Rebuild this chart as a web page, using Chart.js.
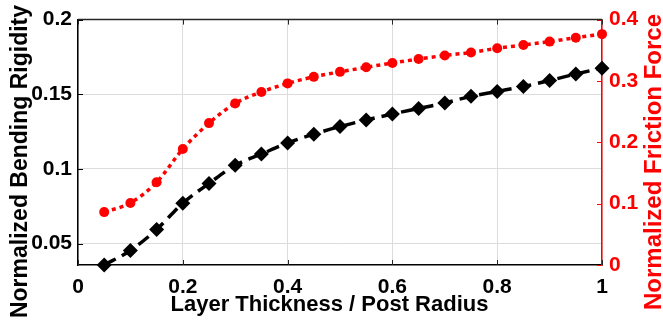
<!DOCTYPE html>
<html>
<head>
<meta charset="utf-8">
<script src="https://cdn.jsdelivr.net/npm/chart.js@4.4.1/dist/chart.umd.min.js"></script>
<style>
  html, body { margin: 0; padding: 0; background: #ffffff; }
  #wrap { width: 663px; height: 325px; position: relative; }
</style>
</head>
<body>
<div id="wrap"><canvas id="c"></canvas></div>
<script>
// Layer thickness normalised by post radius
const thickness = [0.05, 0.10, 0.15, 0.20, 0.25, 0.30, 0.35, 0.40, 0.45, 0.50,
                   0.55, 0.60, 0.65, 0.70, 0.75, 0.80, 0.85, 0.90, 0.95, 1.00];
// Normalized bending rigidity (left axis)
const rigidity = [0.0357, 0.0454, 0.0595, 0.0771, 0.0903, 0.1025, 0.1100, 0.1174, 0.1233, 0.1284,
                  0.1328, 0.1368, 0.1405, 0.1442, 0.1486, 0.1519, 0.1552, 0.1592, 0.1636, 0.1675];
// Normalized friction force (right axis)
const friction = [0.0862, 0.1012, 0.1349, 0.1890, 0.2313, 0.2634, 0.2821, 0.2960, 0.3067, 0.3148,
                  0.3223, 0.3292, 0.3357, 0.3416, 0.3464, 0.3533, 0.3586, 0.3641, 0.3705, 0.3763];

const xTicks = [0, 0.2, 0.4, 0.6, 0.8, 1];
const leftTicks = [0.05, 0.1, 0.15, 0.2];
const rightTicks = [0, 0.1, 0.2, 0.3, 0.4];

const xTitle = 'Layer Thickness / Post Radius';
const leftTitle = 'Normalized Bending Rigidity';
const rightTitle = 'Normalized Friction Force';

const FONT = '"Liberation Sans", Arial, sans-serif';
const RED = '#ff0000';
const INK = '#000000';
const TICK_FONT = { family: FONT, size: 21, weight: 'bold' };

const fixTicks = (list) => function (scale) {
  scale.ticks = list.map(v => ({ value: v }));
};

// MATLAB-style inward tick marks, top frame line and axis titles
const frame = {
  id: 'frame',
  afterDraw(chart) {
    const { ctx, chartArea: a, scales } = chart;
    const len = 5;
    ctx.save();
    ctx.lineWidth = 1;
    // x ticks at bottom and top
    ctx.strokeStyle = '#262626';
    scales.x.ticks.forEach(t => {
      const px = Math.round(scales.x.getPixelForValue(t.value)) + 0.5;
      ctx.beginPath();
      ctx.moveTo(px, a.bottom); ctx.lineTo(px, a.bottom - len);
      ctx.moveTo(px, a.top); ctx.lineTo(px, a.top + len);
      ctx.stroke();
    });
    // left ticks
    ctx.strokeStyle = INK;
    scales.y.ticks.forEach(t => {
      const py = Math.round(scales.y.getPixelForValue(t.value)) + 0.5;
      ctx.beginPath();
      ctx.moveTo(a.left, py); ctx.lineTo(a.left + len, py);
      ctx.stroke();
    });
    // right ticks
    ctx.strokeStyle = RED;
    scales.y1.ticks.forEach(t => {
      const py = Math.round(scales.y1.getPixelForValue(t.value)) + 0.5;
      ctx.beginPath();
      ctx.moveTo(a.right, py); ctx.lineTo(a.right - len, py);
      ctx.stroke();
    });
    // top frame line
    ctx.strokeStyle = '#262626';
    ctx.lineWidth = 1.5;
    ctx.beginPath();
    ctx.moveTo(a.left, a.top); ctx.lineTo(a.right, a.top);
    ctx.stroke();

    // axis titles
    ctx.textAlign = 'center';
    ctx.textBaseline = 'alphabetic';
    ctx.fillStyle = INK;
    ctx.font = 'bold 22px ' + FONT;
    ctx.fillText(xTitle, 329.5, 311);

    ctx.save();
    ctx.translate(27, 161.5);
    ctx.rotate(-Math.PI / 2);
    ctx.font = 'bold 23px ' + FONT;
    ctx.fillText(leftTitle, 0, 0);
    ctx.restore();

    ctx.save();
    ctx.translate(661, 162);
    ctx.rotate(-Math.PI / 2);
    ctx.fillStyle = RED;
    ctx.font = 'bold 24px ' + FONT;
    ctx.fillText(rightTitle, 0, 0);
    ctx.restore();
    ctx.restore();
  }
};

new Chart(document.getElementById('c'), {
  type: 'line',
  data: {
    datasets: [
      {
        label: leftTitle,
        data: thickness.map((x, i) => ({ x, y: rigidity[i] })),
        yAxisID: 'y',
        borderColor: INK,
        backgroundColor: INK,
        borderWidth: 3.5,
        borderDash: [13, 7],
        pointStyle: 'rectRot',
        pointRadius: 7.5,
        pointHoverRadius: 7.5,
        pointBorderWidth: 0,
        cubicInterpolationMode: 'monotone',
        clip: false
      },
      {
        label: rightTitle,
        data: thickness.map((x, i) => ({ x, y: friction[i] })),
        yAxisID: 'y1',
        borderColor: RED,
        backgroundColor: RED,
        borderWidth: 3.5,
        borderDash: [4, 4],
        pointStyle: 'circle',
        pointRadius: 5,
        pointHoverRadius: 5,
        pointBorderWidth: 0,
        cubicInterpolationMode: 'monotone',
        clip: false
      }
    ]
  },
  options: {
    responsive: true,
    maintainAspectRatio: false,
    animation: false,
    events: [],
    layout: { padding: { top: 16, left: 0, right: 0, bottom: 0 } },
    plugins: { legend: { display: false }, tooltip: { enabled: false } },
    scales: {
      x: {
        type: 'linear',
        min: 0,
        max: 1,
        afterBuildTicks: fixTicks(xTicks),
        afterFit(s) { s.height = 60; },
        grid: { color: '#dcdcdc', lineWidth: 1, drawTicks: false },
        border: { color: INK, width: 1.5 },
        ticks: {
          color: INK,
          padding: 10,
          maxRotation: 0,
          font: TICK_FONT,
          callback: v => String(v)
        }
      },
      y: {
        type: 'linear',
        position: 'left',
        min: 0.0357,
        max: 0.2,
        afterBuildTicks: fixTicks(leftTicks),
        afterFit(s) { s.width = 78; },
        grid: { color: '#dcdcdc', lineWidth: 1, drawTicks: false },
        border: { color: INK, width: 1.5 },
        ticks: {
          color: INK,
          padding: 6,
          font: TICK_FONT,
          callback: v => String(v)
        }
      },
      y1: {
        type: 'linear',
        position: 'right',
        min: 0,
        max: 0.4,
        afterBuildTicks: fixTicks(rightTicks),
        afterFit(s) { s.width = 61; },
        grid: { drawOnChartArea: false, drawTicks: false },
        border: { color: RED, width: 1.5 },
        ticks: {
          color: RED,
          padding: 7,
          font: TICK_FONT,
          callback: v => String(v)
        }
      }
    }
  },
  plugins: [frame]
});
</script>
</body>
</html>
